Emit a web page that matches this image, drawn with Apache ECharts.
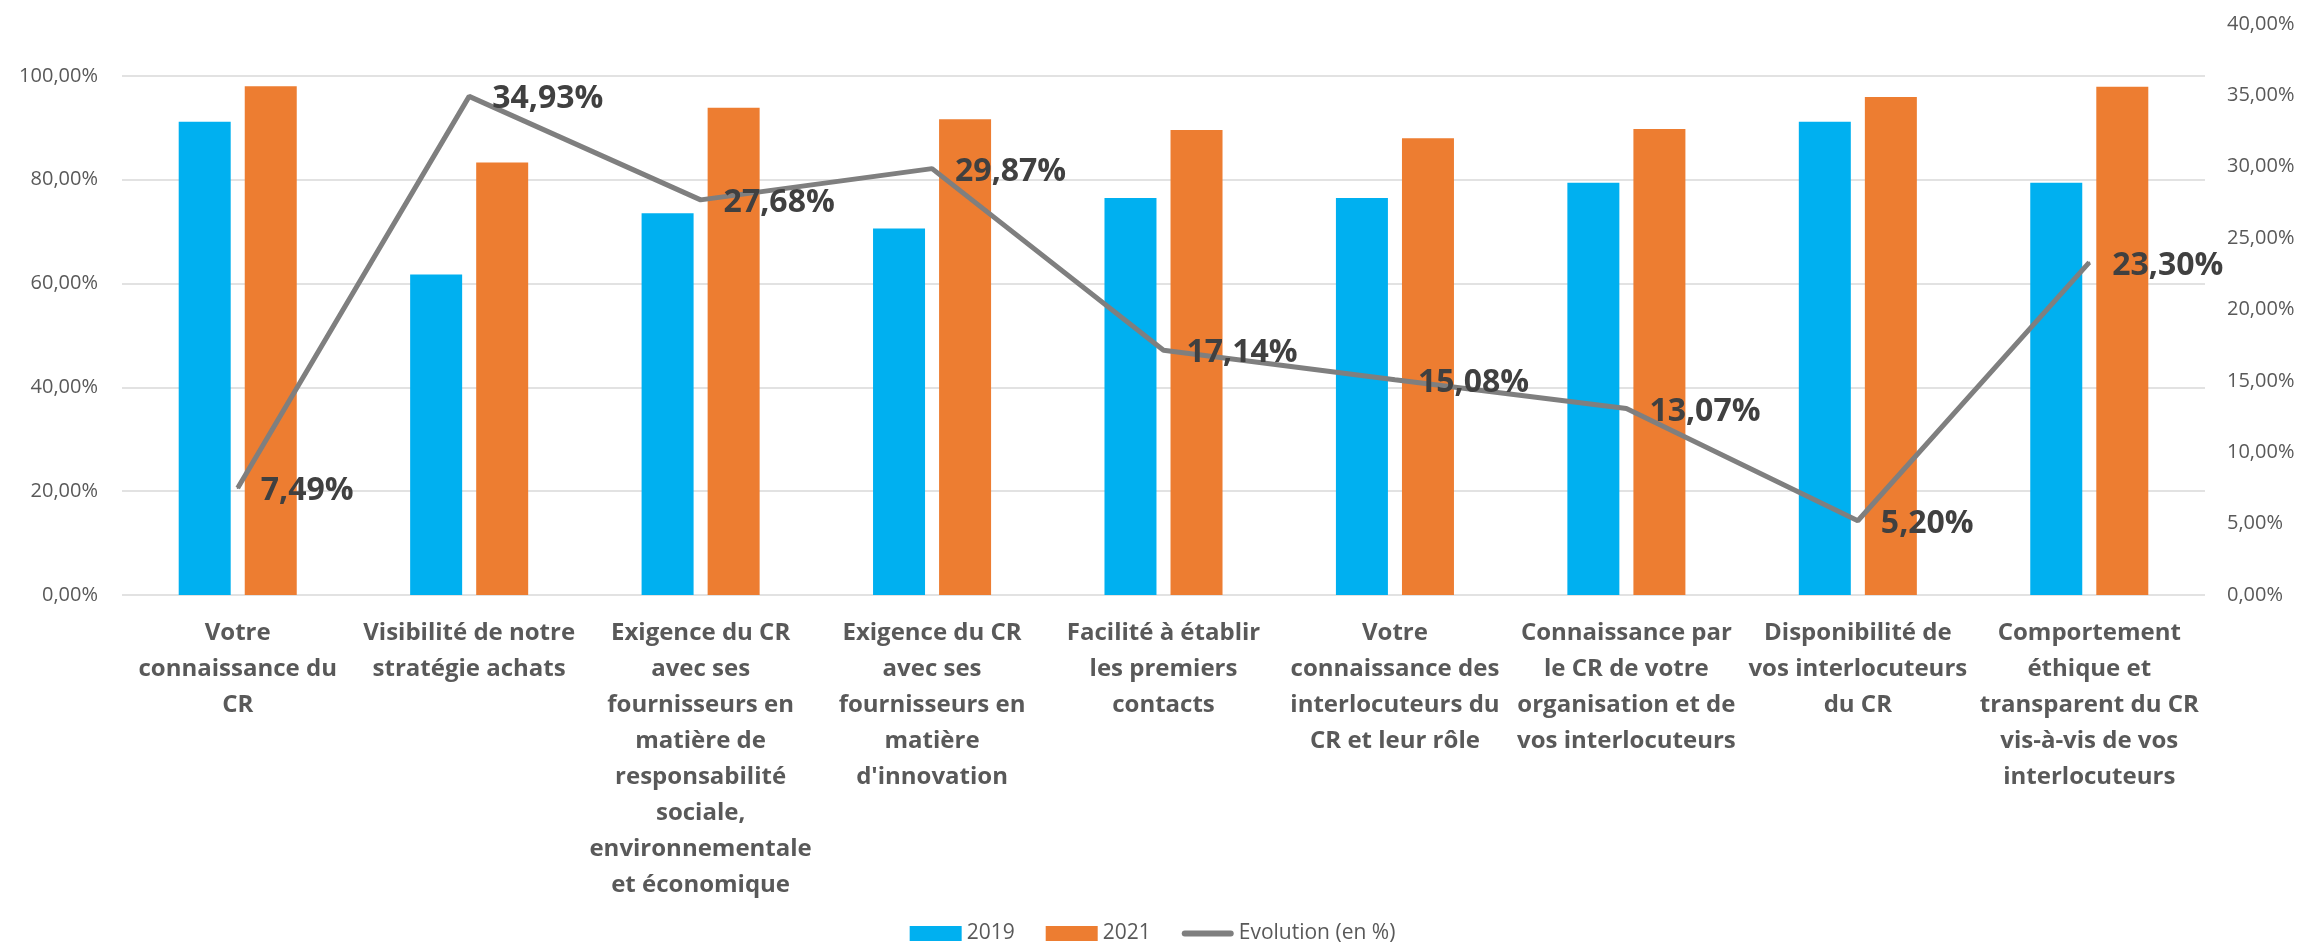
<!DOCTYPE html>
<html>
<head>
<meta charset="utf-8">
<script src="https://cdn.jsdelivr.net/npm/echarts@6/dist/echarts.min.js"></script>
<style>
  html, body { margin: 0; padding: 0; background: #fff; }
  #chart { width: 2305px; height: 952px; }
</style>
</head>
<body>
<div id="chart"></div>
<script>
// catégories (retours à la ligne comme sur l'original)
var categories = [
  'Votre\nconnaissance du\nCR',
  'Visibilité de notre\nstratégie achats',
  'Exigence du CR\navec ses\nfournisseurs en\nmatière de\nresponsabilité\nsociale,\nenvironnementale\net économique',
  'Exigence du CR\navec ses\nfournisseurs en\nmatière\nd\'innovation',
  'Facilité à établir\nles premiers\ncontacts',
  'Votre\nconnaissance des\ninterlocuteurs du\nCR et leur rôle',
  'Connaissance par\nle CR de votre\norganisation et de\nvos interlocuteurs',
  'Disponibilité de\nvos interlocuteurs\ndu CR',
  'Comportement\néthique et\ntransparent du CR\nvis-à-vis de vos\ninterlocuteurs'
];
var values2019 = [91.18, 61.76, 73.53, 70.59, 76.47, 76.47, 79.41, 91.18, 79.41];
var values2021 = [98.01, 83.33, 93.88, 91.67, 89.58, 88.00, 89.79, 95.92, 97.92];
var evolution = [7.49, 34.93, 27.68, 29.87, 17.14, 15.08, 13.07, 5.20, 23.30];

function pct(v) {
  return Number(v).toFixed(2).replace('.', ',') + '%';
}

var font = '"Open Sans", "Noto Sans", sans-serif';

var myChart = echarts.init(document.getElementById('chart'));
myChart.setOption({
  animation: false,
  textStyle: { fontFamily: font },
  color: ['#00b0f0', '#ed7d31', '#7f7f7f'],
  grid: { left: 122, right: 100, top: 24, bottom: 357, containLabel: false },
  legend: {
    bottom: 3,
    left: 'center',
    itemWidth: 52,
    itemHeight: 15,
    itemGap: 31,
    textStyle: { fontSize: 21, color: '#595959', fontFamily: font },
    data: [
      { name: '2019', icon: 'rect' },
      { name: '2021', icon: 'rect' },
      { name: 'Evolution (en %)', icon: 'path://M3,0 L49,0 A3,3 0 0 1 49,6 L3,6 A3,3 0 0 1 3,0 Z' }
    ]
  },
  xAxis: {
    type: 'category',
    data: categories,
    axisTick: { show: false },
    axisLine: { show: false },
    axisLabel: {
      interval: 0,
      margin: 20,
      fontSize: 24,
      lineHeight: 36,
      fontWeight: 'bold',
      color: '#595959',
      fontFamily: font
    }
  },
  yAxis: [
    {
      type: 'value',
      min: 0,
      max: 110,
      interval: 20,
      axisLine: { show: false },
      axisTick: { show: false },
      axisLabel: {
        margin: 24,
        fontSize: 20,
        color: '#595959',
        showMaxLabel: false,
        formatter: function (v) { return v > 100 ? '' : pct(v); }
      },
      splitLine: {
        showMaxLine: false,
        lineStyle: {
          color: ['#d9d9d9', '#d9d9d9', '#d9d9d9', '#d9d9d9', '#d9d9d9', '#d9d9d9', 'rgba(0,0,0,0)'],
          width: 1.5
        }
      }
    },
    {
      type: 'value',
      min: 0,
      max: 40,
      interval: 5,
      position: 'right',
      axisLine: { show: false },
      axisTick: { show: false },
      splitLine: { show: false },
      axisLabel: {
        margin: 22,
        fontSize: 20,
        color: '#595959',
        formatter: pct
      }
    }
  ],
  series: [
    {
      name: '2019',
      type: 'bar',
      barWidth: 52,
      barGap: '27%',
      data: values2019
    },
    {
      name: '2021',
      type: 'bar',
      barWidth: 52,
      barGap: '27%',
      data: values2021
    },
    {
      name: 'Evolution (en %)',
      type: 'line',
      yAxisIndex: 1,
      symbol: 'circle',
      symbolSize: 2,
      lineStyle: { width: 5, color: '#7f7f7f' },
      itemStyle: { color: '#7f7f7f' },
      label: {
        show: true,
        position: 'right',
        distance: 22,
        offset: [0, 3],
        fontSize: 32,
        fontWeight: 'bold',
        color: '#404040',
        fontFamily: font,
        formatter: function (p) { return pct(p.value); }
      },
      data: evolution
    }
  ]
});
</script>
</body>
</html>
